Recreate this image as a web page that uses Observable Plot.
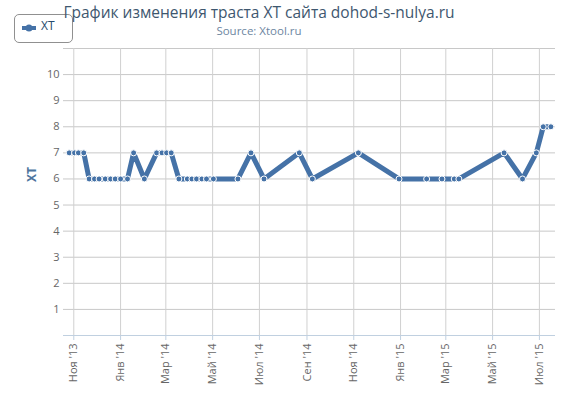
<!DOCTYPE html>
<html>
<head>
<meta charset="utf-8">
<script src="https://cdn.jsdelivr.net/npm/d3@7"></script>
<script src="https://cdn.jsdelivr.net/npm/@observablehq/plot@0.6"></script>
<style>
  html, body { margin: 0; padding: 0; background: #fff; }
  #wrap { position: relative; width: 575px; height: 399px; overflow: hidden; font-family: "Open Sans", sans-serif; }
  #wrap > svg { position: absolute; left: 0; top: 0; }
  .legend { position: absolute; left: 14px; top: 14px; width: 59px; height: 29px; box-sizing: border-box;
            border: 1px solid #909090; border-radius: 5px; }
  .legend .sym { position: absolute; left: 7px; top: 9px; }
  .legend .lab { position: absolute; left: 26px; top: 5px; font-size: 12px; line-height: 12px; color: #274b6d; }
  .title { position: absolute; left: 0; width: 518px; top: 3.5px; text-align: center; font-size: 15.5px; line-height: 16px; color: #3E576F; white-space: nowrap; }
  .subtitle { position: absolute; left: 0; width: 518px; top: 24.5px; text-align: center; font-size: 11.5px; line-height: 12px; color: #6D869F; white-space: nowrap; }
</style>
</head>
<body>
<div id="wrap"></div>
<script>
// ---- data ----
const titleText = "График изменения траста XT сайта dohod-s-nulya.ru";
const subtitleText = "Source: Xtool.ru";
const seriesName = "XT";
const yAxisTitle = "XT";

const dates = [
  "2013-10-26","2013-11-02","2013-11-07","2013-11-14",
  "2013-11-21","2013-11-28","2013-12-04","2013-12-12","2013-12-19","2013-12-25","2014-01-01","2014-01-10",
  "2014-01-18","2014-02-01",
  "2014-02-17","2014-02-24","2014-03-02","2014-03-08",
  "2014-03-18","2014-03-29","2014-04-04","2014-04-10","2014-04-17","2014-04-23","2014-05-02","2014-06-03",
  "2014-06-20","2014-07-07","2014-08-22","2014-09-08","2014-11-07",
  "2014-12-30","2015-02-04","2015-02-24","2015-03-12","2015-03-18",
  "2015-05-16","2015-06-09","2015-06-27","2015-07-06","2015-07-16"
];
const values = [
  7, 7, 7, 7,
  6, 6, 6, 6, 6, 6, 6, 6,
  7, 6,
  7, 7, 7, 7,
  6, 6, 6, 6, 6, 6, 6, 6,
  7, 6, 7, 6, 7,
  6, 6, 6, 6, 6,
  7, 6, 7, 8, 8
];

const tickMonths = ["2013-11-01","2014-01-01","2014-03-01","2014-05-01","2014-07-01","2014-09-01",
                    "2014-11-01","2015-01-01","2015-03-01","2015-05-01","2015-07-01"];
const tickLabels = ["Ноя '13","Янв '14","Мар '14","Май '14","Июл '14","Сен '14",
                    "Ноя '14","Янв '15","Мар '15","Май '15","Июл '15"];
const yTicks = [1, 2, 3, 4, 5, 6, 7, 8, 9, 10];
const yGrid = [1, 2, 3, 4, 5, 6, 7, 8, 9, 10, 11];

// ---- build ----
const data = dates.map((d, i) => ({date: new Date(d), value: values[i]}));
const tickDates = tickMonths.map(d => new Date(d));
const labelByTime = new Map(tickDates.map((d, i) => [+d, tickLabels[i]]));

const seriesColor = "#4572A7";

const chart = Plot.plot({
  width: 575,
  height: 399,
  marginLeft: 63,
  marginRight: 20,
  marginTop: 48,
  marginBottom: 64,
  style: {fontFamily: "Open Sans, sans-serif", fontSize: "11px", background: "transparent"},
  x: {type: "utc", domain: [new Date(Date.UTC(2013, 9, 18, 14)), new Date(Date.UTC(2015, 6, 22))]},
  y: {domain: [0, 11]},
  marks: [
    Plot.gridY(yGrid, {stroke: "#C8C8C8", strokeOpacity: 1}),
    Plot.gridX(tickDates, {stroke: "#D0D0D0", strokeOpacity: 1}),
    Plot.ruleY([0], {stroke: "#C0D0E0"}),
    Plot.axisX({ticks: tickDates, tickFormat: d => labelByTime.get(+d), tickRotate: -90,
                tickSize: 5, tickPadding: 3, stroke: "#C0D0E0", fill: "#666", fontSize: 11, label: null}),
    Plot.axisY({ticks: yTicks, tickSize: 0, tickPadding: 4, fill: "#666", fontSize: 11, label: null}),
    Plot.text([yAxisTitle], {frameAnchor: "left", dx: -31, dy: -10, rotate: -90, text: d => d,
                fill: "#4d759e", fontWeight: "bold", fontSize: 12}),
    Plot.line(data, {x: "date", y: "value", stroke: seriesColor, strokeWidth: 5,
                     strokeLinejoin: "miter", strokeLinecap: "butt", curve: "linear"}),
    Plot.dot(data, {x: "date", y: "value", r: 3, fill: seriesColor, stroke: "white", strokeWidth: 1})
  ]
});

const wrap = document.getElementById("wrap");
wrap.appendChild(chart);

const legend = document.createElement("div");
legend.className = "legend";
legend.innerHTML = `<svg class="sym" width="14" height="8"><line x1="0" y1="4" x2="14" y2="4" stroke="${seriesColor}" stroke-width="4"/><circle cx="7" cy="4" r="3.5" fill="${seriesColor}"/></svg><div class="lab"></div>`;
legend.querySelector(".lab").textContent = seriesName;
wrap.appendChild(legend);

const t = document.createElement("div");
t.className = "title";
t.textContent = titleText;
wrap.appendChild(t);

const s = document.createElement("div");
s.className = "subtitle";
s.textContent = subtitleText;
wrap.appendChild(s);
</script>
</body>
</html>
